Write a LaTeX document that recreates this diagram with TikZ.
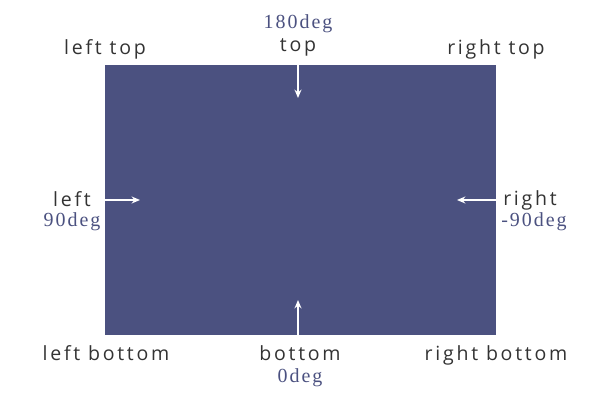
\documentclass[tikz,border=0pt]{standalone}
\usepackage{fontspec}
\setmainfont{Liberation Serif}
\newfontfamily\sidefont[LetterSpace=14]{Open Sans}
\newfontfamily\degfont[LetterSpace=10]{Liberation Serif}
\usetikzlibrary{positioning,arrows.meta}
\definecolor{slate}{HTML}{4B5180}
\definecolor{ink}{HTML}{333333}

\begin{document}
\begin{tikzpicture}[x=0.025cm,y=-0.025cm,
side/.style={font=\sidefont\fontsize{13.9}{16}\selectfont,text=ink,inner sep=0pt,anchor=base},
deg/.style={font=\degfont\fontsize{14.2}{16}\selectfont,text=slate,inner sep=0pt,anchor=base},
pointer/.style={draw=white,line width=1.1pt,-{Stealth[length=6pt,width=5pt]}}]
\useasboundingbox (0,0) rectangle (600,400);
\node[fill=slate,inner sep=0pt,outer sep=0pt,minimum width=9.775cm,minimum height=6.75cm] (box) at (300.5,200) {};
% corner labels
\node[side] (lefttop) at (105,55) {left top};
\node[side] (righttop) at (496,55) {right top};
\node[side] (leftbottom) at (106,361) {left bottom};
\node[side] (rightbottom) at (496,361) {right bottom};
% side labels with angles
\node[side] (top) at (298,52) {top};
\node[deg] (topdeg) at (298,29) {180deg};
\node[side] (bottom) at (300,361) {bottom};
\node[deg] (bottomdeg) at (300,383) {0deg};
\node[side] (left) at (72,207) {left};
\node[deg] (leftdeg) at (72,227) {90deg};
\node[side] (right) at (530,206) {right};
\node[deg] (rightdeg) at (534,227) {-90deg};
% arrows
\coordinate (topend) at (298,98);
\coordinate (bottomend) at (298,300);
\coordinate (leftend) at (140,200);
\coordinate (rightend) at (457,200);
\draw[pointer] (box.north -| topend) -- (topend);
\draw[pointer] (box.south -| bottomend) -- (bottomend);
\draw[pointer] (box.west) -- (leftend);
\draw[pointer] (box.east) -- (rightend);
\end{tikzpicture}
\end{document}
